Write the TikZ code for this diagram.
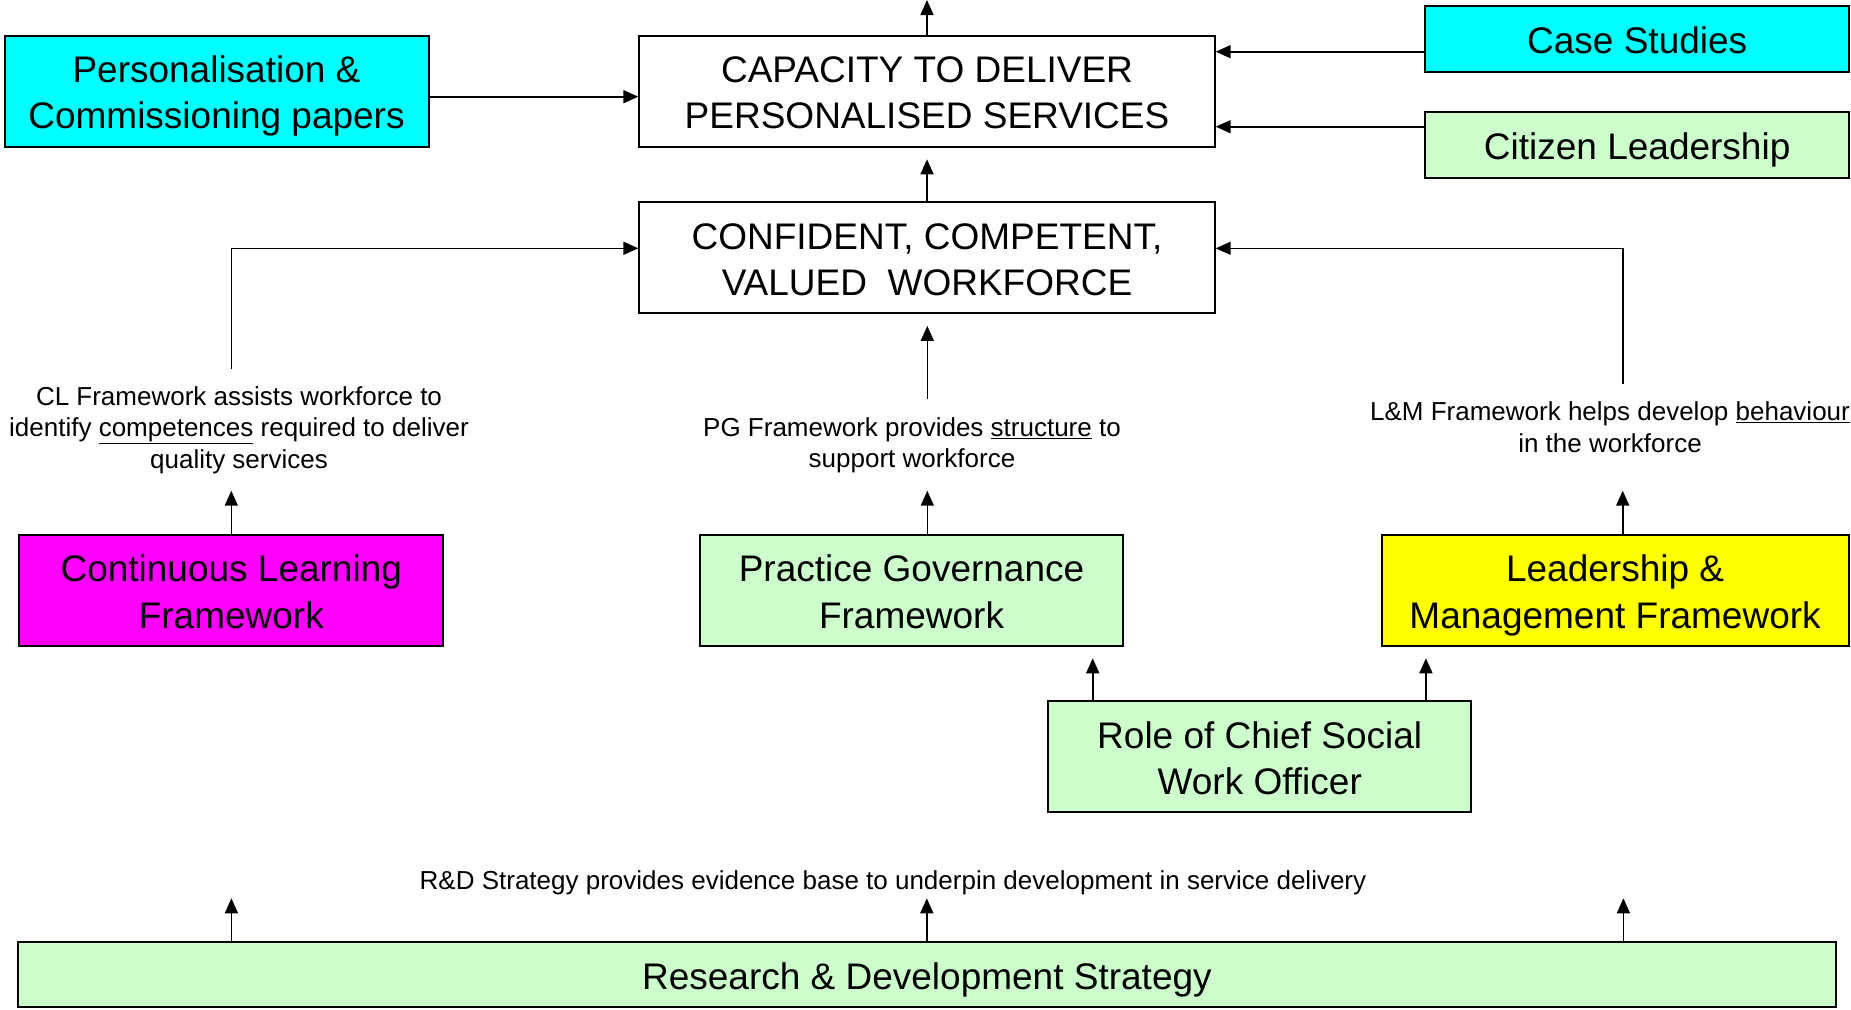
\documentclass[tikz,border=0pt]{standalone}
\usepackage{fontspec}
\setmainfont{Liberation Sans}
\usepackage{tikz}
\usetikzlibrary{arrows.meta,positioning,calc}
\definecolor{cyanbox}{HTML}{00FFFF}
\definecolor{greenbox}{HTML}{CCFFCC}
\definecolor{magbox}{HTML}{FF00FF}
\definecolor{yelbox}{HTML}{FFFF00}
\newcommand{\boxfont}{\fontsize{37}{44}\selectfont}
\newcommand{\notefont}{\fontsize{26}{31.5}\selectfont}
\newcommand{\bs}{\rule[-8pt]{0pt}{45.2pt}}

\begin{document}
\begin{tikzpicture}[x=1pt, y=-1pt,
  box/.style={draw, line width=2pt, align=center, inner sep=0pt, font=\boxfont},
  note/.style={align=center, inner sep=0pt, font=\notefont},
  arr/.style={-{Triangle[length=15pt,width=13pt]}, line width=1.6pt},
  gap/.style={shorten >=11.6pt}]
\useasboundingbox (0,0) rectangle (1851,1009);

% outcome boxes
\node[box, minimum width=575.4pt, minimum height=111pt] (cap) at (927,91.2) {\bs CAPACITY TO DELIVER\\PERSONALISED SERVICES\bs};
\node[box, minimum width=575.4pt, minimum height=111.6pt] (conf) at (927,257.5) {\bs CONFIDENT, COMPETENT,\\VALUED~~WORKFORCE\bs};

\node[box, fill=cyanbox, minimum width=424pt, minimum height=111pt] (pers) at (216.5,91.2) {\bs Personalisation \&\\Commissioning papers\bs};
\node[box, fill=cyanbox, minimum width=423.6pt, minimum height=66pt] (cs) at (1637.2,38.7) {\bs Case Studies};
\node[box, fill=greenbox, minimum width=423.6pt, minimum height=66pt] (cit) at (1637.2,144.7) {\bs Citizen Leadership};

% frameworks
\node[box, fill=magbox, minimum width=424pt, minimum height=110.7pt] (clf) at (231.3,590.3) {\bs Continuous Learning\\Framework\bs};
\node[box, fill=greenbox, minimum width=423.5pt, minimum height=110.7pt] (pgf) at (911.5,590.3) {\bs Practice Governance\\Framework\bs};
\node[box, fill=yelbox, minimum width=467.2pt, minimum height=110.7pt] (lmf) at (1615.1,590.3) {\bs Leadership \&\\Management Framework\bs};
\node[box, fill=greenbox, minimum width=422.7pt, minimum height=111.3pt] (cswo) at (1259.7,756.7) {\bs Role of Chief Social\\Work Officer\bs};
\node[box, fill=greenbox, minimum width=1818.3pt, minimum height=65.3pt] (rd) at (926.9,974.4) {\bs Research \& Development Strategy};

% notes
\node[note] (clnote) at (239,430) {CL Framework assists workforce to\\identify \underline{competences} required to deliver\\quality services};
\node[note] (pgnote) at (912,445.5) {PG Framework provides \underline{structure} to\\support workforce};
\node[note] (lmnote) at (1610,427) {L\&M Framework helps develop \underline{behaviour}\\in the workforce};
\node[note] (rdnote) at (893,883) {R\&D Strategy provides evidence base to underpin development in service delivery};

\coordinate (top) at (927,0);
\coordinate (cltop) at (231.3,369);
\coordinate (pgtop) at (927.3,399.3);
\coordinate (lmtop) at (1622.7,384);
\coordinate (clhead) at (231.3,490.7);
\coordinate (pghead) at (927.3,490.7);
\coordinate (lmhead) at (1622.7,490.7);

\draw[arr] (cap.north) -- (top);
\draw[arr, gap] (conf.north) -- (cap.south);
\draw[arr] ([yshift=-5.5pt]pers.east) -- ([yshift=-5.5pt]pers.east -| cap.west);
\draw[arr] ([yshift=-13pt]cs.west) -- ([yshift=-13pt]cs.west -| cap.east);
\draw[arr] ([yshift=18pt]cit.west) -- ([yshift=18pt]cit.west -| cap.east);

\draw[arr] (cltop) |- ([yshift=9.2pt]conf.west);
\draw[arr, gap] (pgtop) -- (pgtop |- conf.south);
\draw[arr] (lmtop) |- ([yshift=9.2pt]conf.east);

\draw[arr] (clf.north) -- (clhead);
\draw[arr] (pghead |- pgf.north) -- (pghead);
\draw[arr] (lmhead |- lmf.north) -- (lmhead);

\draw[arr, gap] ([xshift=-167pt]cswo.north) -- ([xshift=-167pt]cswo.north |- pgf.south);
\draw[arr, gap] ([xshift=166.2pt]cswo.north) -- ([xshift=166.2pt]cswo.north |- lmf.south);

\foreach \x [count=\i] in {231.4,926.8,1623.4} {
  \coordinate (rdhead\i) at (\x,898.3);
  \draw[arr] (rdhead\i |- rd.north) -- (rdhead\i);
}
\end{tikzpicture}
\end{document}
